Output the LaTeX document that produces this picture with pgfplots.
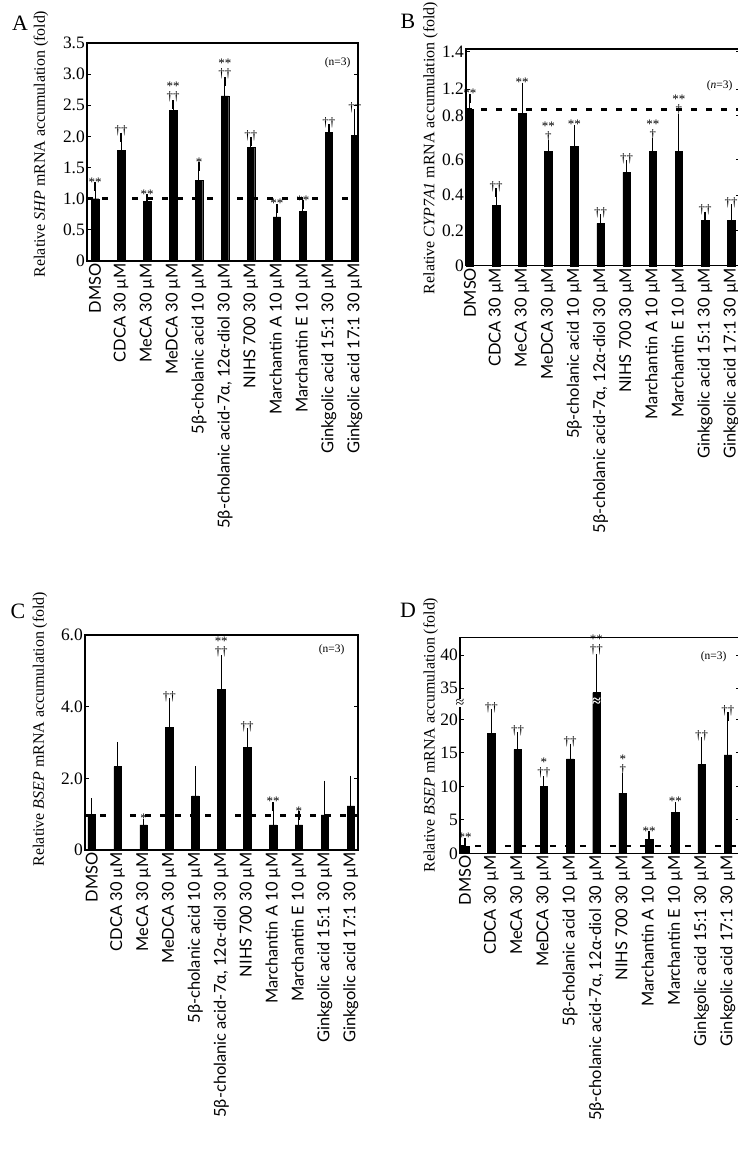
\documentclass[border=0pt]{standalone}
\usepackage{fontspec}
\setmainfont{Liberation Serif}
\newfontfamily\labfam{Lato}
\usepackage{pgfplots}
\pgfplotsset{compat=1.18}
\newcommand{\st}[2]{\begin{tabular}{@{}c@{}}#1\\[-3bp]#2\end{tabular}}
\pgfplotsset{
  panel/.style={
    scale only axis,
    clip=false,
    axis line style={line width=1.1bp},
    xtick={0,1,2,3,4,5,6,7,8,9,10},
    xticklabels={DMSO, CDCA 30 µM, MeCA 30 µM, MeDCA 30 µM, 5β-cholanic acid 10 µM, {5β-cholanic acid-7α, 12α-diol 30 µM}, NIHS 700 30 µM, Marchantin A 10 µM, Marchantin E 10 µM, Ginkgolic acid 15:1 30 µM, Ginkgolic acid 17:1 30 µM},
    xticklabel style={rotate=90, anchor=east, font=\labfam\fontsize{16.5}{17}\selectfont, inner sep=2bp},
    major x tick style={draw=none},
    yticklabel style={font=\fontsize{17.5}{17.5}\selectfont, inner sep=2bp},
    tick align=inside, major tick length=4bp,
    ytick style={line width=0.8bp, black},
    ylabel style={font=\fontsize{16}{16}\selectfont, anchor=center},
  },
  bars/.style={ybar, bar width=7.5bp, fill=black, draw=black,
    error bars/y dir=plus, error bars/y explicit,
    error bars/error bar style={line width=1bp, black},
    error bars/error mark options={line width=1.2bp, mark size=4.5bp, black}},
  ann/.style={draw=none, mark=none, nodes near coords, point meta=explicit symbolic,
    nodes near coords style={anchor=south, inner sep=0.5bp, font=\fontsize{13}{13}\selectfont}},
  refline/.style={line width=2.6bp, dash pattern=on 6bp off 9bp},
}
\begin{document}
\begin{tikzpicture}
\useasboundingbox (0,0) rectangle (738bp,-1161bp);
\node[font=\fontsize{22}{22}\selectfont] at (20bp,-23bp) {A};
\node[font=\fontsize{22}{22}\selectfont] at (408bp,-21bp) {B};
\node[font=\fontsize{22}{22}\selectfont] at (18bp,-611bp) {C};
\node[font=\fontsize{22}{22}\selectfont] at (408bp,-610bp) {D};

% ---------------- A: SHP ----------------
\begin{axis}[panel, at={(87bp,-43bp)}, anchor=north west, width=271bp, height=218bp,
  xmin=-0.31, xmax=10.12, ymin=0, ymax=3.5,
  ytick={0,0.5,1,1.5,2,2.5,3,3.5}, yticklabels={0,0.5,1.0,1.5,2.0,2.5,3.0,3.5},
  ylabel={Relative \textit{SHP} mRNA accumulation (fold)},
  ylabel style={at={(axis description cs:-0.17,0.537)}}]
\addplot[bars] coordinates {
 (0,1.00) +- (0,0.19) (1,1.78) +- (0,0.21) (2,0.96) +- (0,0.04) (3,2.42) +- (0,0.09)
 (4,1.30) +- (0,0.21) (5,2.65) +- (0,0.23) (6,1.83) +- (0,0.09) (7,0.71) +- (0,0.13)
 (8,0.80) +- (0,0.10) (9,2.06) +- (0,0.07) (10,2.02) +- (0,0.35)};
\addplot[refline] coordinates {(-0.31,1) (10.12,1)};
\addplot[ann] coordinates {
 (0,1.19)[**] (1,1.99)[††] (2,1.00)[**] (3,2.51)[\st{**}{††}] (4,1.51)[*]
 (5,2.88)[\st{**}{††}] (6,1.92)[††] (7,0.84)[**] (8,0.90)[**] (9,2.13)[††] (10,2.37)[††]};
\node[anchor=east, font=\fontsize{11.5}{11.5}\selectfont] at (rel axis cs:0.985,0.908) {(n=3)};
\end{axis}

% ---------------- B: CYP7A1 ----------------
\begin{axis}[panel, at={(466bp,-49bp)}, anchor=north west, width=274bp, height=216.7bp,
  xmin=-0.15, xmax=10.34, ymin=0, ymax=1.226,
  ytick={0,0.2,0.4,0.6,0.85,1.0,1.21}, yticklabels={0,0.2,0.4,0.6,0.8,1.2,1.4},
  ylabel={Relative \textit{CYP7A1} mRNA accumulation (fold)},
  ylabel style={at={(axis description cs:-0.13,0.543)}}]
\addplot[bars] coordinates {
 (0,0.885) +- (0,0.062) (1,0.34) +- (0,0.073) (2,0.862) +- (0,0.148) (3,0.645) +- (0,0.038)
 (4,0.674) +- (0,0.098) (5,0.24) +- (0,0.028) (6,0.528) +- (0,0.042) (7,0.645) +- (0,0.051)
 (8,0.645) +- (0,0.189) (9,0.258) +- (0,0.023) (10,0.258) +- (0,0.063)};
\addplot[refline] coordinates {(-0.15,0.885) (10.34,0.885)};
\addplot[ann] coordinates {
 (0,0.95)[**] (1,0.413)[††] (2,1.01)[**] (3,0.683)[\st{**}{†}] (4,0.772)[**]
 (5,0.268)[††] (6,0.57)[††] (7,0.696)[\st{**}{†}] (8,0.834)[\st{**}{†}] (9,0.281)[††] (10,0.321)[††]};
\node[anchor=east, font=\fontsize{11.5}{11.5}\selectfont] at (rel axis cs:0.985,0.83) {(\textit{n}=3)};
\end{axis}

% ---------------- C: BSEP ----------------
\begin{axis}[panel, at={(85bp,-635bp)}, anchor=north west, width=273bp, height=215bp,
  xmin=-0.26, xmax=10.28, ymin=0, ymax=6,
  ytick={0,2,4,6}, yticklabels={0,2.0,4.0,6.0},
  ylabel={Relative \textit{BSEP} mRNA accumulation (fold)},
  ylabel style={at={(axis description cs:-0.165,0.563)}}]
\addplot[bars] coordinates {
 (0,1.00) +- (0,0.32) (1,2.33) +- (0,0.56) (2,0.70) +- (0,0.05) (3,3.42) +- (0,0.70)
 (4,1.51) +- (0,0.70) (5,4.49) +- (0,0.82) (6,2.86) +- (0,0.42) (7,0.70) +- (0,0.51)
 (8,0.70) +- (0,0.25) (9,0.98) +- (0,0.83) (10,1.23) +- (0,0.71)};
\addplot[refline] coordinates {(-0.26,0.96) (10.28,0.96)};
\addplot[ann] coordinates {
 (2,0.75)[*] (3,4.12)[††] (5,5.31)[\st{**}{††}] (6,3.28)[††] (7,1.21)[**] (8,0.95)[*]};
\node[anchor=east, font=\fontsize{11.5}{11.5}\selectfont] at (rel axis cs:0.963,0.93) {(n=3)};
\end{axis}

% ---------------- D: BSEP (broken axis) ----------------
% the axis is broken between 20 and 35: values above the break are plotted 10.3 lower
% (diol 30 uM: 34.3 +- 5.1 is drawn at 24.0)
\begin{axis}[panel, at={(460bp,-637.7bp)}, anchor=north west, width=280bp, height=215.6bp,
  xmin=-0.19, xmax=10.46, ymin=0, ymax=32.2,
  ytick={0,5,10,15,20,24.7,29.6}, yticklabels={0,5,10,15,20,35,40},
  ylabel={Relative \textit{BSEP} mRNA accumulation (fold)},
  ylabel style={at={(axis description cs:-0.105,0.549)}}]
\addplot[bars] coordinates {
 (0,1.0) +- (0,0.6) (1,17.9) +- (0,3.0) (2,15.5) +- (0,1.9) (3,10.0) +- (0,0.8)
 (4,14.1) +- (0,1.6) (5,24.0) +- (0,5.1) (6,9.0) +- (0,2.3) (7,2.1) +- (0,0.5)
 (8,6.1) +- (0,0.9) (9,13.3) +- (0,3.4) (10,14.7) +- (0,5.7)};
\addplot[refline] coordinates {(-0.19,1.1) (10.46,1.1)};
\addplot[ann] coordinates {
 (0,1.6)[**] (1,20.9)[††] (2,17.4)[††] (3,10.8)[\st{*}{††}] (4,15.7)[††]
 (5,29.1)[\st{**}{††}] (6,11.3)[\st{*}{†}] (7,2.6)[**] (8,7.0)[**] (9,16.7)[††] (10,20.4)[††]};
\node[text=white, font=\fontsize{16}{16}\selectfont\bfseries, inner sep=0pt] at (axis cs:5,22.6) {≈};
\node[fill=white, font=\fontsize{16}{16}\selectfont, inner sep=0pt] at (rel axis cs:0,0.696) {≈};
\node[anchor=east, font=\fontsize{11.5}{11.5}\selectfont] at (rel axis cs:0.964,0.91) {(n=3)};
\end{axis}
\end{tikzpicture}
\end{document}
